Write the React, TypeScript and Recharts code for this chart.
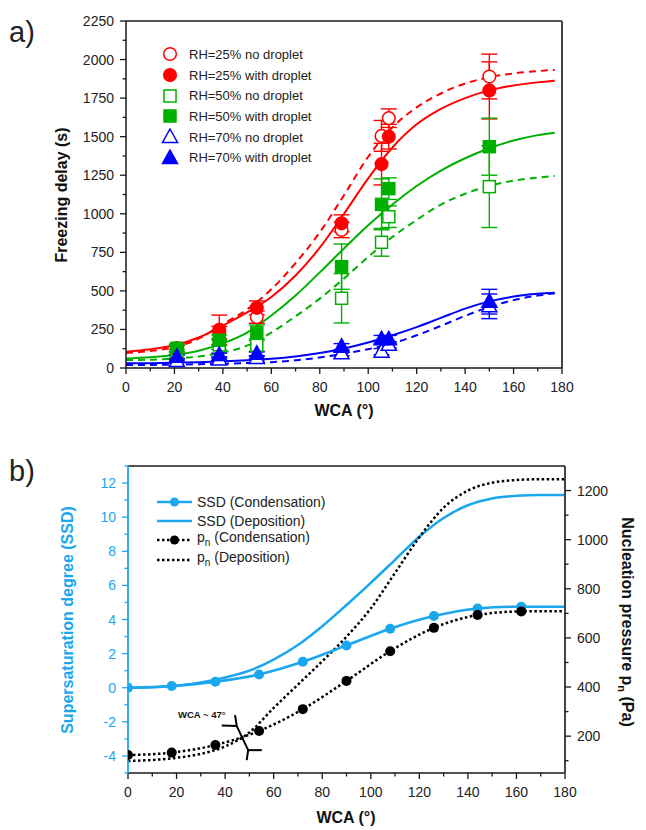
import React from 'react';
import {
  ComposedChart,
  Line,
  Scatter,
  XAxis,
  YAxis,
  ErrorBar,
  ReferenceLine,
} from 'recharts';

const FONT = 'Arial, "Liberation Sans", sans-serif';
const RED = '#ff0000';
const GREEN = '#00b000';
const BLUE = '#0000ff';
const CYAN = '#1aa7ee';
const INK = '#1a1a1a';

// ---- panel a: freezing delay vs WCA ----
const WCA_A = [21, 38.5, 54, 89, 105.5, 108.5, 150];
const rh25No = [125, 230, 330, 895, 1505, 1620, 1890];
const rh25NoErr = [20, 40, 40, 50, 100, 60, 145];
const rh25With = [130, 248, 390, 938, 1322, 1500, 1800];
const rh25WithErr = [25, 95, 45, 55, 135, 80, 185];
const rh50No = [105, 150, 148, 452, 815, 981, 1176];
const rh50NoErr = [15, 30, 40, 160, 90, 70, 265];
const rh50With = [128, 180, 229, 657, 1061, 1163, 1435];
const rh50WithErr = [20, 35, 50, 147, 165, 70, 185];
const rh70No = [45, 55, 65, 95, 106, 150, 400];
const rh70NoErr = [8, 10, 12, 15, 20, 20, 80];
const rh70With = [73, 84, 92, 138, 186, 186, 430];
const rh70WithErr = [10, 12, 12, 20, 25, 25, 80];

// sigmoid fits, sampled along WCA
const FIT_X = [0, 10, 20, 30, 40, 50, 60, 70, 80, 90, 100, 110, 120, 130, 140, 150, 160, 170, 177];
const fit25With = [106, 122, 148, 198, 275, 360, 460, 600, 780, 1000, 1230, 1430, 1580, 1680, 1750, 1800, 1832, 1852, 1863];
const fit25No = [98, 110, 135, 190, 285, 380, 510, 680, 880, 1120, 1370, 1560, 1690, 1780, 1845, 1885, 1910, 1925, 1933];
const fit50With = [62, 70, 84, 112, 160, 230, 340, 470, 620, 775, 925, 1060, 1180, 1280, 1360, 1425, 1475, 1510, 1526];
const fit50No = [52, 54, 60, 75, 100, 145, 230, 335, 450, 580, 720, 850, 960, 1060, 1130, 1180, 1215, 1235, 1245];
const fit70With = [30, 31, 34, 38, 43, 50, 60, 75, 97, 127, 165, 212, 265, 325, 385, 432, 463, 481, 488];
const fit70No = [19, 20, 22, 25, 28, 32, 38, 50, 68, 93, 122, 160, 212, 273, 338, 396, 440, 470, 484];

// ---- panel b: SSD and nucleation pressure vs WCA ----
const WCA_B = [0, 18, 36, 54, 72, 90, 108, 126, 144, 162, 180];
const ssdCond = [0, 0.1, 0.35, 0.78, 1.52, 2.48, 3.46, 4.2, 4.65, 4.75, 4.75];
const pnCond = [123, 133, 164, 221, 310, 425, 546, 641, 693, 708, 709];
const DEP_X = [0, 10, 20, 30, 40, 50, 60, 70, 80, 90, 100, 110, 120, 130, 140, 150, 160, 170, 180];
const ssdDep = [0, 0.03, 0.12, 0.3, 0.6, 1.0, 1.65, 2.5, 3.6, 4.85, 6.15, 7.5, 8.85, 9.95, 10.7, 11.1, 11.25, 11.3, 11.3];
const pnDep = [99, 103, 112, 128, 158, 215, 315, 410, 505, 605, 720, 865, 1010, 1130, 1200, 1232, 1243, 1246, 1246];

const X_TICKS = Array.from({ length: 19 }, (_, i) => i * 10);
const Y_TICKS_A = Array.from({ length: 19 }, (_, i) => i * 125);
const Y_TICKS_B_LEFT = Array.from({ length: 19 }, (_, i) => i - 5);
const Y_TICKS_B_RIGHT = Array.from({ length: 12 }, (_, i) => (i + 1) * 100);

const points = (ys: number[], errs: number[]) =>
  WCA_A.map((x, i) => ({ x, y: ys[i], err: errs[i] }));
const curve = (xs: number[], ys: number[]) => xs.map((x, i) => ({ x, y: ys[i] }));

type Shape = 'circle' | 'square' | 'triangle';

const SERIES_A: { name: string; color: string; shape: Shape; filled: boolean; ys: number[]; errs: number[] }[] = [
  { name: 'RH=25% no droplet', color: RED, shape: 'circle', filled: false, ys: rh25No, errs: rh25NoErr },
  { name: 'RH=25% with droplet', color: RED, shape: 'circle', filled: true, ys: rh25With, errs: rh25WithErr },
  { name: 'RH=50% no droplet', color: GREEN, shape: 'square', filled: false, ys: rh50No, errs: rh50NoErr },
  { name: 'RH=50% with droplet', color: GREEN, shape: 'square', filled: true, ys: rh50With, errs: rh50WithErr },
  { name: 'RH=70% no droplet', color: BLUE, shape: 'triangle', filled: false, ys: rh70No, errs: rh70NoErr },
  { name: 'RH=70% with droplet', color: BLUE, shape: 'triangle', filled: true, ys: rh70With, errs: rh70WithErr },
];

const FITS_A = [
  { ys: fit25No, color: RED, dashed: true },
  { ys: fit25With, color: RED, dashed: false },
  { ys: fit50No, color: GREEN, dashed: true },
  { ys: fit50With, color: GREEN, dashed: false },
  { ys: fit70No, color: BLUE, dashed: true },
  { ys: fit70With, color: BLUE, dashed: false },
];

function Marker({ cx, cy, shape, color, filled }: { cx: number; cy: number; shape: Shape; color: string; filled: boolean }) {
  const fill = filled ? color : '#fff';
  if (shape === 'circle') {
    return <circle cx={cx} cy={cy} r={6.3} fill={fill} stroke={color} strokeWidth={1.5} />;
  }
  if (shape === 'square') {
    return <rect x={cx - 6} y={cy - 6} width={12} height={12} fill={fill} stroke={color} strokeWidth={1.5} />;
  }
  return (
    <polygon
      points={`${cx},${cy - 8} ${cx + 7.5},${cy + 5.5} ${cx - 7.5},${cy + 5.5}`}
      fill={fill}
      stroke={color}
      strokeWidth={1.5}
    />
  );
}

// ticks drawn by hand so minor ticks stay unlabeled
function makeTick(side: 'bottom' | 'left' | 'right', majorStep: number, color: string) {
  return function Tick(props: any) {
    const { x, y, payload } = props;
    const v = payload.value as number;
    const major = Math.abs(v / majorStep - Math.round(v / majorStep)) < 1e-6;
    const len = major ? 6 : 3.5;
    const text = { fontFamily: FONT, fontSize: 14, fill: color === INK ? '#222' : color };
    if (side === 'bottom') {
      return (
        <g>
          <line x1={x} y1={y} x2={x} y2={y + len} stroke={color} strokeWidth={1.3} />
          {major && (
            <text x={x} y={y + 24} textAnchor="middle" {...text}>
              {v}
            </text>
          )}
        </g>
      );
    }
    const dir = side === 'left' ? -1 : 1;
    return (
      <g>
        <line x1={x} y1={y} x2={x + dir * len} y2={y} stroke={color} strokeWidth={1.3} />
        {major && (
          <text x={x + dir * 12} y={y} dy="0.36em" textAnchor={side === 'left' ? 'end' : 'start'} {...text}>
            {v}
          </text>
        )}
      </g>
    );
  };
}

const xTick = makeTick('bottom', 20, INK);
const yTickA = makeTick('left', 250, INK);
const yTickBLeft = makeTick('left', 2, CYAN);
const yTickBRight = makeTick('right', 200, INK);

function Title({ x, y, rot = 0, color = '#111', size = 16, children }: any) {
  return (
    <div
      style={{
        position: 'absolute',
        left: x,
        top: y,
        transform: `translate(-50%, -50%) rotate(${rot}deg)`,
        whiteSpace: 'nowrap',
        fontFamily: FONT,
        fontWeight: 'bold',
        fontSize: size,
        color,
      }}
    >
      {children}
    </div>
  );
}

function LegendA() {
  return (
    <div style={{ position: 'absolute', left: 160, top: 44 }}>
      {SERIES_A.map((s) => (
        <div key={s.name} style={{ display: 'flex', alignItems: 'center', height: 20.7 }}>
          <svg width={20} height={18}>
            <Marker cx={10} cy={9} shape={s.shape} color={s.color} filled={s.filled} />
          </svg>
          <span style={{ marginLeft: 9, fontFamily: FONT, fontSize: 13, color: '#222' }}>{s.name}</span>
        </div>
      ))}
    </div>
  );
}

function LegendB() {
  const rows = [
    { color: CYAN, dotted: false, dot: true, label: <>SSD (Condensation)</> },
    { color: CYAN, dotted: false, dot: false, label: <>SSD (Deposition)</> },
    { color: '#000', dotted: true, dot: true, label: <>p<sub style={{ fontSize: 10 }}>n</sub> (Condensation)</> },
    { color: '#000', dotted: true, dot: false, label: <>p<sub style={{ fontSize: 10 }}>n</sub> (Deposition)</> },
  ];
  return (
    <div style={{ position: 'absolute', left: 157, top: 493 }}>
      {rows.map((r, i) => (
        <div key={i} style={{ display: 'flex', alignItems: 'center', height: i === 3 ? 21 : 18.7 }}>
          <svg width={36} height={12}>
            <line
              x1={0}
              y1={6}
              x2={35}
              y2={6}
              stroke={r.color}
              strokeWidth={2.5}
              strokeDasharray={r.dotted ? '2.5 2.5' : undefined}
            />
            {r.dot && <circle cx={17.5} cy={6} r={4.5} fill={r.color} />}
          </svg>
          <span style={{ marginLeft: 4, fontFamily: FONT, fontSize: 14, color: '#222', lineHeight: '16px' }}>{r.label}</span>
        </div>
      ))}
    </div>
  );
}

export default function App() {
  const axisLine = { stroke: INK, strokeWidth: 1.5 };
  const markedDot = (color: string) => (p: any) =>
    p.index < WCA_B.length - 1 ? (
      <circle key={`d-${color}-${p.index}`} cx={p.cx} cy={p.cy} r={5} fill={color} />
    ) : (
      <g key={`d-${color}-${p.index}`} />
    );

  return (
    <div style={{ position: 'absolute', left: 0, top: 0, width: 646, height: 830, background: '#fff', overflow: 'hidden' }}>
      {/* panel a */}
      <div style={{ position: 'absolute', left: 0, top: 0 }}>
        <ComposedChart width={646} height={420} margin={{ top: 21, right: 84, bottom: 0, left: 0 }}>
          <XAxis
            type="number"
            dataKey="x"
            domain={[0, 180]}
            ticks={X_TICKS}
            interval={0}
            height={52}
            tickSize={0}
            tickMargin={0}
            tickLine={false}
            axisLine={axisLine}
            tick={xTick}
            allowDataOverflow
          />
          <YAxis
            type="number"
            domain={[0, 2250]}
            ticks={Y_TICKS_A}
            interval={0}
            width={126}
            tickSize={0}
            tickMargin={0}
            tickLine={false}
            axisLine={axisLine}
            tick={yTickA}
            allowDataOverflow
          />
          <ReferenceLine y={2250} stroke={INK} strokeWidth={1.5} />
          <ReferenceLine x={180} stroke="#444" strokeWidth={2} />
          {FITS_A.map((f, i) => (
            <Line
              key={`fit-${i}`}
              data={curve(FIT_X, f.ys)}
              dataKey="y"
              type="monotone"
              stroke={f.color}
              strokeWidth={2}
              strokeDasharray={f.dashed ? '7 5' : undefined}
              dot={false}
              activeDot={false}
              isAnimationActive={false}
            />
          ))}
          {SERIES_A.map((s) => (
            <Scatter
              key={s.name}
              name={s.name}
              data={points(s.ys, s.errs)}
              dataKey="y"
              isAnimationActive={false}
              shape={(p: any) => <Marker cx={p.cx} cy={p.cy} shape={s.shape} color={s.color} filled={s.filled} />}
            >
              <ErrorBar dataKey="err" direction="y" width={8} stroke={s.color} strokeWidth={1.4} />
            </Scatter>
          ))}
        </ComposedChart>
      </div>

      {/* panel b */}
      <div style={{ position: 'absolute', left: 0, top: 430 }}>
        <ComposedChart width={646} height={400} margin={{ top: 36, right: 0, bottom: 0, left: 0 }}>
          <XAxis
            type="number"
            dataKey="x"
            domain={[0, 180]}
            ticks={X_TICKS}
            interval={0}
            height={57}
            tickSize={0}
            tickMargin={0}
            tickLine={false}
            axisLine={axisLine}
            tick={xTick}
            allowDataOverflow
          />
          <YAxis
            yAxisId="left"
            type="number"
            domain={[-5, 13]}
            ticks={Y_TICKS_B_LEFT}
            interval={0}
            width={128}
            tickSize={0}
            tickMargin={0}
            tickLine={false}
            axisLine={{ stroke: CYAN, strokeWidth: 1.8 }}
            tick={yTickBLeft}
            allowDataOverflow
          />
          <YAxis
            yAxisId="right"
            orientation="right"
            type="number"
            domain={[50, 1300]}
            ticks={Y_TICKS_B_RIGHT}
            interval={0}
            width={81}
            tickSize={0}
            tickMargin={0}
            tickLine={false}
            axisLine={{ stroke: '#444', strokeWidth: 2 }}
            tick={yTickBRight}
            allowDataOverflow
          />
          <ReferenceLine yAxisId="left" y={13} stroke={INK} strokeWidth={1.5} />
          <Line
            yAxisId="left"
            data={curve(DEP_X, ssdDep)}
            dataKey="y"
            type="monotone"
            stroke={CYAN}
            strokeWidth={2.5}
            dot={false}
            activeDot={false}
            isAnimationActive={false}
          />
          <Line
            yAxisId="right"
            data={curve(DEP_X, pnDep)}
            dataKey="y"
            type="monotone"
            stroke="#000"
            strokeWidth={2.5}
            strokeDasharray="2.5 2.5"
            dot={false}
            activeDot={false}
            isAnimationActive={false}
          />
          <Line
            yAxisId="left"
            data={curve(WCA_B, ssdCond)}
            dataKey="y"
            type="monotone"
            stroke={CYAN}
            strokeWidth={2.5}
            dot={markedDot(CYAN)}
            activeDot={false}
            isAnimationActive={false}
          />
          <Line
            yAxisId="right"
            data={curve(WCA_B, pnCond)}
            dataKey="y"
            type="monotone"
            stroke="#000"
            strokeWidth={2.5}
            strokeDasharray="2.5 2.5"
            dot={markedDot('#000')}
            activeDot={false}
            isAnimationActive={false}
          />
          {/* crossing marker near WCA ~ 47 */}
          <ReferenceLine yAxisId="left" segment={[{ x: 44.8, y: -2.25 }, { x: 49.5, y: -3.66 }]} stroke="#000" strokeWidth={2} ifOverflow="visible" />
          <ReferenceLine yAxisId="left" segment={[{ x: 44.1, y: -1.61 }, { x: 44.8, y: -2.25 }]} stroke="#000" strokeWidth={2} ifOverflow="visible" />
          <ReferenceLine yAxisId="left" segment={[{ x: 38.6, y: -2.21 }, { x: 44.8, y: -2.25 }]} stroke="#000" strokeWidth={2} ifOverflow="visible" />
          <ReferenceLine yAxisId="left" segment={[{ x: 49.5, y: -3.66 }, { x: 55.1, y: -3.66 }]} stroke="#000" strokeWidth={2} ifOverflow="visible" />
          <ReferenceLine yAxisId="left" segment={[{ x: 49.5, y: -3.66 }, { x: 48.9, y: -4.24 }]} stroke="#000" strokeWidth={2} ifOverflow="visible" />
        </ComposedChart>
      </div>

      <LegendA />
      <LegendB />

      <div style={{ position: 'absolute', left: 9, top: 16, fontFamily: FONT, fontSize: 29, color: '#222' }}>a)</div>
      <div style={{ position: 'absolute', left: 9, top: 455, fontFamily: FONT, fontSize: 29, color: '#222' }}>b)</div>

      <Title x={62} y={195} rot={-90}>Freezing delay (s)</Title>
      <Title x={344} y={411}>WCA (°)</Title>
      <Title x={68} y={620} rot={-90} color={CYAN}>Supersaturation degree (SSD)</Title>
      <Title x={626} y={622} rot={90}>
        Nucleation pressure p<sub style={{ fontSize: 11 }}>n</sub> (Pa)
      </Title>
      <Title x={346} y={818}>WCA (°)</Title>
      <div
        style={{
          position: 'absolute',
          left: 178,
          top: 709,
          fontFamily: FONT,
          fontWeight: 'bold',
          fontSize: 9.5,
          color: '#111',
          whiteSpace: 'nowrap',
        }}
      >
        WCA ~ 47°
      </div>
    </div>
  );
}
